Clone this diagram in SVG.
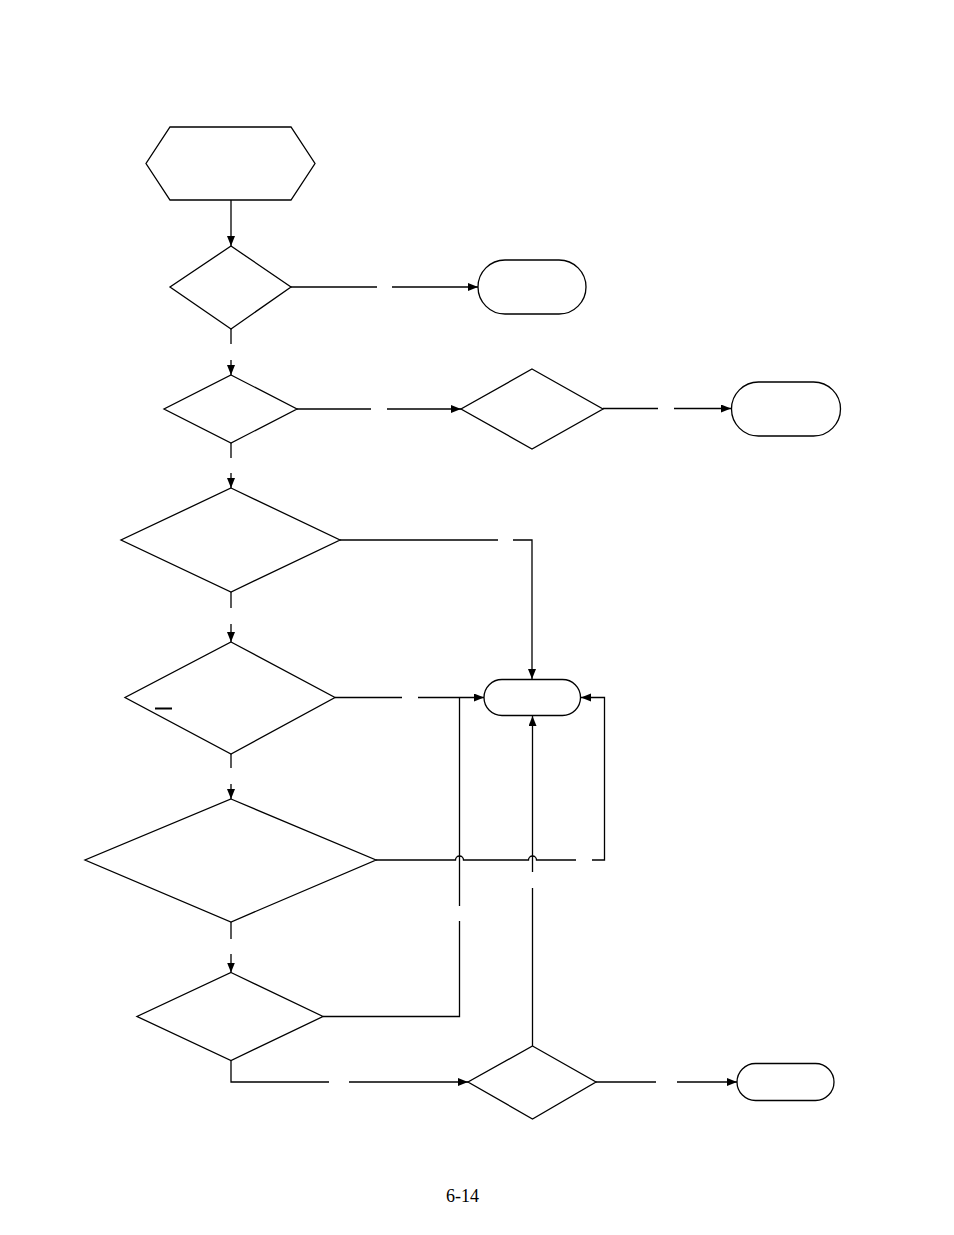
<svg xmlns="http://www.w3.org/2000/svg" width="954" height="1235" viewBox="0 0 954 1235">
<style>
.n{fill:#fff;stroke:#000;stroke-width:1.3}
.c{fill:none;stroke:#000;stroke-width:1.3}
.a{marker-end:url(#ah)}
.t{font-family:"Liberation Serif","Times New Roman",serif;font-size:18px;fill:#000}
</style>
<defs>
<marker id="ah" markerUnits="userSpaceOnUse" markerWidth="11" markerHeight="9" refX="10" refY="4" orient="auto">
<path d="M0,0 L10,4 L0,8 z" fill="#000"/>
</marker>
</defs>
<rect width="954" height="1235" fill="#fff"/>
<g id="connectors">
<path class="c a" d="M231,200 V246"/>
<path class="c" d="M291,287 H377"/><path class="c a" d="M392,287 H478"/>
<path class="c" d="M231,329 V344"/><path class="c a" d="M231,360 V375"/>
<path class="c" d="M297,409 H371"/><path class="c a" d="M387,409 H461"/>
<path class="c" d="M603,408.5 H658"/><path class="c a" d="M674,408.5 H731"/>
<path class="c" d="M231,443 V458"/><path class="c a" d="M231,473 V488"/>
<path class="c" d="M340,540 H498"/><path class="c a" d="M513,540 H532 V679"/>
<path class="c" d="M231,592 V608"/><path class="c a" d="M231,624 V642"/>
<path class="c" d="M335,697.5 H402"/><path class="c a" d="M418,697.5 H484"/>
<path class="c" d="M231,754 V768"/><path class="c a" d="M231,784 V799"/>
<path class="c" d="M376,860 H455.5 a4,4 0 0 1 8,0 H528.5 a4,4 0 0 1 8,0 H576"/><path class="c a" d="M592,860 H604.5 V697.5 H581"/>
<path class="c" d="M231,922 V939"/><path class="c a" d="M231,954 V972.5"/>
<path class="c" d="M323,1016.5 H459.5 V921"/><path class="c" d="M459.5,906 V697.5"/>
<path class="c" d="M231,1060.5 V1082 H329"/><path class="c a" d="M349,1082 H468"/>
<path class="c" d="M532.5,1046 V888"/><path class="c a" d="M532.5,872 V716"/>
<path class="c" d="M596,1082 H656"/><path class="c a" d="M677,1082 H737"/>
</g>
<g id="start"><polygon class="n" points="170,127 291,127 315,163.5 291,200 170,200 146,163.5"/></g>
<g id="d1"><polygon class="n" points="231,246 291,287 231,329 170,287"/></g>
<g id="t1"><rect class="n" x="478" y="260" width="108" height="54" rx="27" ry="27"/></g>
<g id="d2"><polygon class="n" points="231,375 297,409 231,443 164,409"/></g>
<g id="d3"><polygon class="n" points="532,369 603,409 532,449 461,409"/></g>
<g id="t2"><rect class="n" x="731.5" y="382" width="109" height="54" rx="27" ry="27"/></g>
<g id="d4"><polygon class="n" points="231,488 340,540 231,592 121,540"/></g>
<g id="d5"><polygon class="n" points="231,642 335,697.5 231,754 125,697.5"/><line x1="155" y1="708.5" x2="172" y2="708.5" stroke="#000" stroke-width="2"/></g>
<g id="t3"><rect class="n" x="484" y="679.5" width="96.5" height="36" rx="18" ry="18"/></g>
<g id="d6"><polygon class="n" points="231,799 376,860 231,922 85,860"/></g>
<g id="d7"><polygon class="n" points="231,972.5 323,1016.5 231,1060.5 137,1016.5"/></g>
<g id="d8"><polygon class="n" points="532.5,1046 596,1082 532.5,1119 468,1082"/></g>
<g id="t4"><rect class="n" x="737" y="1063.5" width="97" height="37" rx="18.5" ry="18.5"/></g>
<text class="t" x="462.5" y="1202" text-anchor="middle">6-14</text>
</svg>
